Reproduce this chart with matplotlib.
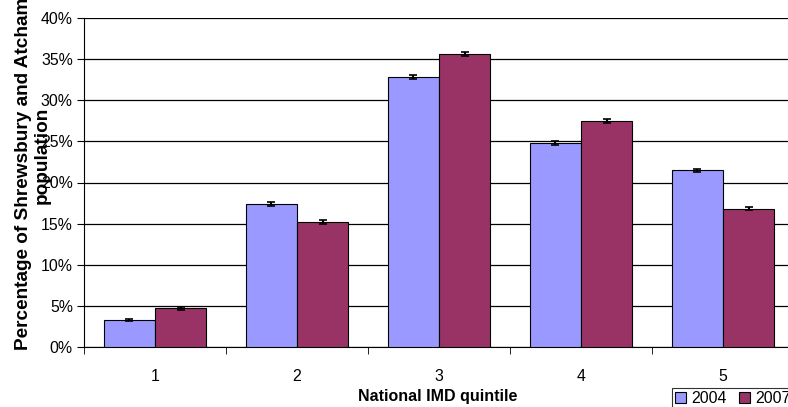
import matplotlib
matplotlib.use("Agg")
import matplotlib.pyplot as plt
import numpy as np

plt.rcParams['font.family'] = ['Liberation Sans', 'DejaVu Sans']

categories = ['1', '2', '3', '4', '5']
series_names = ['2004', '2007']
values_2004 = [3.3, 17.4, 32.8, 24.8, 21.5]
values_2007 = [4.7, 15.2, 35.6, 27.5, 16.8]
err_2004 = [0.15, 0.2, 0.25, 0.2, 0.2]
err_2007 = [0.15, 0.2, 0.25, 0.25, 0.2]
yticks = [0, 5, 10, 15, 20, 25, 30, 35, 40]

fig = plt.figure(figsize=(7.88, 4.07), dpi=100)
ax = fig.add_axes([84/788, 60/407, 710/788, 329/407])

x = np.arange(len(categories))
w = 0.36
ax.bar(x - w/2, values_2004, w, color='#9999FF', edgecolor='black', linewidth=0.8,
       yerr=err_2004, error_kw=dict(ecolor='black', elinewidth=1.5, capsize=3, capthick=1.2),
       label=series_names[0], zorder=3)
ax.bar(x + w/2, values_2007, w, color='#993366', edgecolor='black', linewidth=0.8,
       yerr=err_2007, error_kw=dict(ecolor='black', elinewidth=1.5, capsize=3, capthick=1.2),
       label=series_names[1], zorder=3)

ax.set_xlim(-0.5, len(categories) - 0.5)
ax.set_ylim(0, 40)
ax.set_yticks(yticks)
ax.set_yticklabels([f'{v}%' for v in yticks], fontsize=11.4)
ax.yaxis.grid(True, color='black', linewidth=0.9, zorder=0)
ax.set_axisbelow(True)

ax.set_xticks(x)
ax.set_xticklabels(categories, fontsize=11.4)
ax.tick_params(axis='x', length=0, pad=16)
ax.set_xticks(np.arange(-0.5, len(categories)), minor=True)
ax.tick_params(axis='x', which='minor', length=5, color='black', direction='out')
ax.tick_params(axis='y', length=5, color='black', direction='out', pad=3)

for s in ['top', 'right']:
    ax.spines[s].set_visible(False)
ax.spines['left'].set_color('black')
ax.spines['bottom'].set_color('black')

fig.text(438/788, 1 - 397/407, 'National IMD quintile', ha='center', va='center',
         fontsize=11.5, fontweight='bold')
fig.text(24/788, 1 - 174/407, 'Percentage of Shrewsbury and Atcham', ha='center',
         va='center', rotation=90, fontsize=13.7, fontweight='bold')
fig.text(42/788, 1 - 155/407, 'population', ha='center',
         va='center', rotation=90, fontsize=13.7, fontweight='bold')

leg = fig.legend(loc='lower left', bbox_to_anchor=(672/788, -2/407), ncol=2, fontsize=11.4,
                 frameon=True, fancybox=False, edgecolor='black', handlelength=0.7,
                 handleheight=0.7, handletextpad=0.3, columnspacing=0.8, borderpad=0.2,
                 borderaxespad=0)
leg.get_frame().set_linewidth(0.8)

fig.savefig('out.png', dpi=100)
